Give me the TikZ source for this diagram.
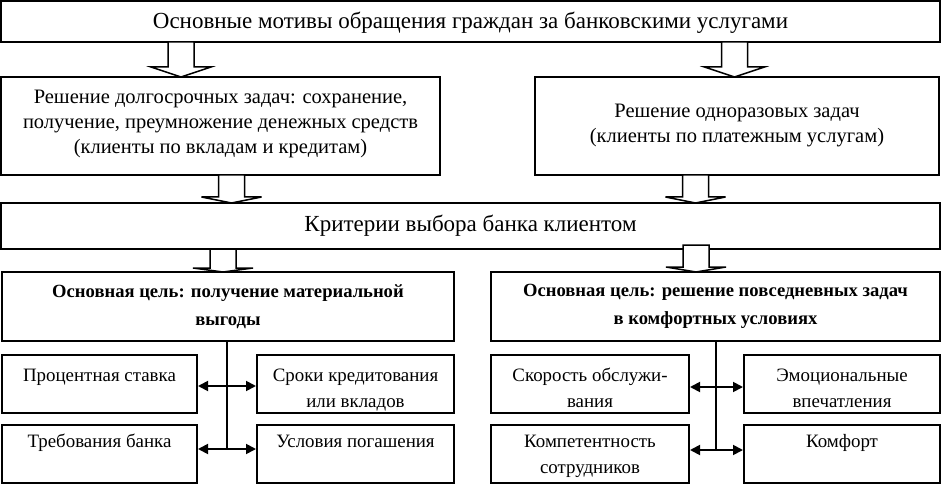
\documentclass[tikz,border=0pt]{standalone}
\usepackage{fontspec}
\setmainfont{Liberation Serif}
\usetikzlibrary{arrows.meta,calc}
\tikzset{
  box/.style={draw,line width=2pt,rectangle,inner sep=0pt},
  blk/.style={draw,line width=1.5pt,fill=white,line join=miter},
  conn/.style={line width=1.8pt,-{Triangle[length=10pt,width=10pt]}},
  vline/.style={line width=1.8pt},
  big/.style={font=\fontsize{23}{25}\selectfont},
  mid/.style={font=\fontsize{20.5}{25}\selectfont},
  sm/.style={font=\fontsize{18.9}{26}\selectfont,align=center,anchor=north,inner sep=0pt},
  bld/.style={font=\fontsize{18.6}{28}\selectfont\bfseries},
}
% block arrow: center x, top y, head base y, tip y
\newcommand{\blockarr}[4]{%
  \draw[blk] (#1-13,#2) -- (#1+13,#2) -- (#1+13,#3) -- (#1+30,#3) -- (#1,#4)
    -- (#1-30,#3) -- (#1-13,#3) -- cycle;}
\newcommand{\mkbox}[6]{% name, x1,y1,x2,y2, style
  \node[box,minimum width=#4-#2,minimum height=#5-#3] (#1) at ({(#2+#4)/2},{(#3+#5)/2}) {};}
\begin{document}
\begin{tikzpicture}[x=1pt,y=-1pt]
\useasboundingbox (0,0) rectangle (943,484);
\mkbox{top}{1}{1}{940}{42}{}
\node[big] at ($(top.center)+(0,1)$) {Основные мотивы обращения граждан за банковскими услугами};
\mkbox{ltask}{1}{77}{440}{175}{}
\node[mid,align=center] at ($(ltask.center)+(0,-2)$) {Решение долгосрочных задач: сохранение,\\получение, преумножение денежных средств\\(клиенты по вкладам и кредитам)};
\mkbox{rtask}{535}{77}{939}{175}{}
\node[mid,align=center] at (rtask.center) {Решение одноразовых задач\\(клиенты по платежным услугам)};
\mkbox{crit}{1}{203}{940}{249}{}
\node[big] at (crit.center) {Критерии выбора банка клиентом};
\mkbox{goalL}{2}{272}{454}{341}{}
\node[bld,align=center] at (goalL.center) {Основная цель: получение материальной\\выгоды};
\mkbox{goalR}{491}{272}{940}{341}{}
\node[bld,align=center] at (goalR.center) {Основная цель: решение повседневных задач\\в комфортных условиях};
% small boxes
\mkbox{L1}{2}{355}{197}{413}{}
\mkbox{L2}{2}{425}{197}{483}{}
\mkbox{L3}{257}{355}{454}{413}{}
\mkbox{L4}{257}{425}{454}{483}{}
\mkbox{R1}{491}{355}{689}{413}{}
\mkbox{R2}{744}{355}{940}{413}{}
\mkbox{R3}{491}{425}{689}{483}{}
\mkbox{R4}{744}{425}{940}{483}{}
\node[sm] at ($(L1.north)+(0,9)$) {\strut Процентная ставка};
\node[sm] at ($(L2.north)+(0,5)$) {\strut Требования банка};
\node[sm] at ($(L3.north)+(0,9)$) {\strut Сроки кредитования\\или вкладов};
\node[sm] at ($(L4.north)+(0,5)$) {\strut Условия погашения};
\node[sm] at ($(R1.north)+(0,9)$) {\strut Скорость обслужи-\\вания};
\node[sm] at ($(R2.north)+(0,9)$) {\strut Эмоциональные\\впечатления};
\node[sm] at ($(R3.north)+(0,5)$) {\strut Компетентность\\сотрудников};
\node[sm] at ($(R4.north)+(0,5)$) {\strut Комфорт};
% block arrows
\blockarr{181}{42}{67}{77}
\blockarr{734.5}{42}{67}{77}
\blockarr{231.5}{175}{197}{203}
\blockarr{695.5}{175}{197}{203}
\blockarr{223}{249}{268}{272}
\blockarr{696}{245}{267}{272}
% connectors
\coordinate (vL) at (227,341);
\coordinate (jL1) at (227,386);
\coordinate (jL2) at (227,449);
\draw[vline] (vL) -- (jL2);
\draw[conn] (jL1) -- (jL1 -| L1.east);
\draw[conn] (jL1) -- (jL1 -| L3.west);
\draw[conn] (jL2) -- (jL2 -| L2.east);
\draw[conn] (jL2) -- (jL2 -| L4.west);
\coordinate (vR) at (716,341);
\coordinate (jR1) at (716,387);
\coordinate (jR2) at (716,450);
\draw[vline] (vR) -- (jR2);
\draw[conn] (jR1) -- (jR1 -| R1.east);
\draw[conn] (jR1) -- (jR1 -| R2.west);
\draw[conn] (jR2) -- (jR2 -| R3.east);
\draw[conn] (jR2) -- (jR2 -| R4.west);
\end{tikzpicture}
\end{document}
